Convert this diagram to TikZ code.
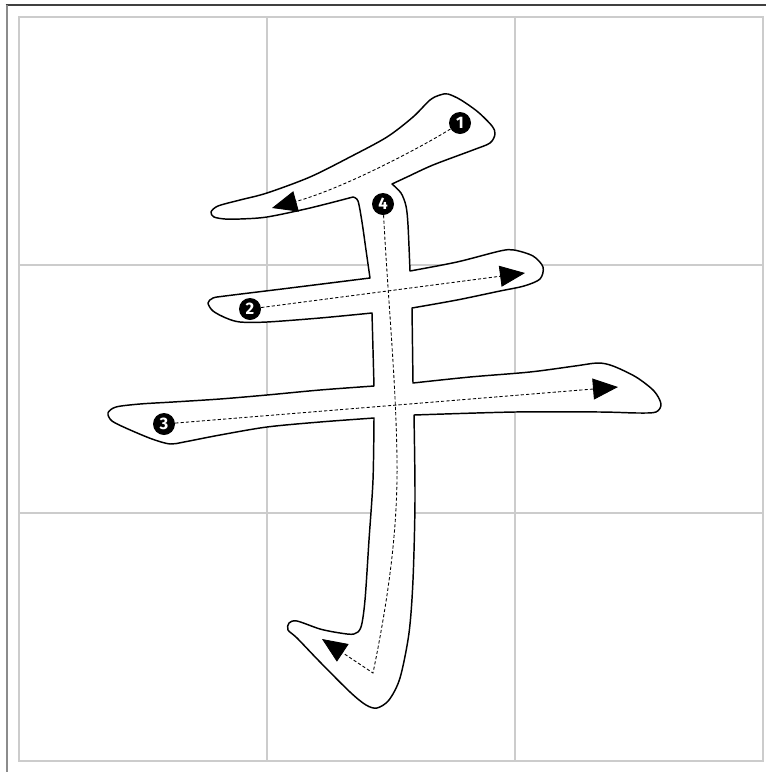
\documentclass[tikz,border=0pt]{standalone}
\usepackage{fontspec}
\setsansfont{Fira Sans}
\usetikzlibrary{arrows.meta}
\begin{document}
\begin{tikzpicture}[x=0.75pt,y=-0.75pt,
  gridline/.style={draw=black!20,line width=1pt},
  outline/.style={draw=black,line width=1.1pt,fill=white,line join=round},
  numdot/.style={circle,fill=black,inner sep=0pt,minimum size=16.5pt,text=white,font=\sffamily\bfseries\fontsize{12.5}{12.5}\selectfont},
  guide/.style={draw=black,line width=0.65pt,dash pattern=on 2.4pt off 1.6pt,-{Triangle[length=18.75pt,width=15.75pt]}}]
\useasboundingbox (0,0) rectangle (766,772);
\fill[white] (0,0) rectangle (766,772);
% grid
\draw[gridline] (19,17) rectangle (763,761);
\draw[gridline] (267,17) -- (267,761);
\draw[gridline] (515,17) -- (515,761);
\draw[gridline] (19,265) -- (763,265);
\draw[gridline] (19,513) -- (763,513);
% frame
\draw[draw=black!75,line width=1.5pt] (5.5,5) -- (766,5);
\draw[draw=black!45,line width=1.5pt] (6.5,5) -- (6.5,772);
% character outline
\draw[outline]
 plot[smooth] coordinates {(392,184) (401,193) (406,206) (408,225) (410,271)}
 -- plot[smooth] coordinates {(410,271) (457,262) (500,251) (514,250) (533,256) (543,267) (540,279) (524,286) (500,291) (457,300) (412,308)}
 -- (413,383)
 -- plot[smooth] coordinates {(413,383) (470,377) (530,372) (575,366) (598,363) (613,366) (636,377) (654,391) (661,404) (656,412) (638,413) (600,412) (515,412) (414,415)}
 -- plot[smooth] coordinates {(414,415) (415,500) (413,580) (409,633) (400,678) (389,700) (377,708) (366,705) (350,692) (320,662) (297,638) (288,630) (289,623) (297,621) (320,629) (340,633) (354,634) (361,627) (365,600) (369,540) (373,480) (374,418)}
 -- plot[smooth] coordinates {(374,418) (320,422) (267,427) (220,435) (184,442) (170,444) (152,439) (128,429) (112,421) (108,413) (116,407) (140,404) (173,402) (220,399) (267,395) (320,390) (374,386)}
 -- (372,313)
 -- plot[smooth] coordinates {(372,313) (320,318) (267,322) (240,322) (226,318) (213,311) (208,303) (213,298) (225,296) (290,288) (370,278)}
 -- plot[smooth] coordinates {(370,278) (366,250) (362,222) (358,201) (353,197)}
 -- plot[smooth] coordinates {(353,197) (310,208) (267,217) (240,219) (225,219) (214,217) (211,212) (218,206) (240,200) (267,193) (310,177) (350,157) (387,137) (413,117) (430,100) (440,95) (448,94) (461,100) (478,112) (492,126) (495,134) (490,143) (473,150) (433,165) (407,177) (392,184)}
 -- cycle;
% stroke order markers
\node[numdot] (n1) at (460,123) {1};
\node[numdot] (n2) at (250,309) {2};
\node[numdot] (n3) at (164,424) {3};
\node[numdot] (n4) at (383,204) {4};
\coordinate (t1) at (272,208);
\coordinate (t2) at (525,273);
\coordinate (t3) at (618,387);
\coordinate (m4) at (397,460);
\coordinate (c4) at (373,673);
\coordinate (t4) at (322,639);
\draw[guide] (n1) .. controls (425,145) and (345,188) .. (t1);
\draw[guide] (n2) -- (t2);
\draw[guide] (n3) -- (t3);
\draw[guide] (n4) .. controls (388,300) and (396,380) .. (m4) .. controls (398,530) and (388,600) .. (c4) -- (t4);
\end{tikzpicture}
\end{document}
